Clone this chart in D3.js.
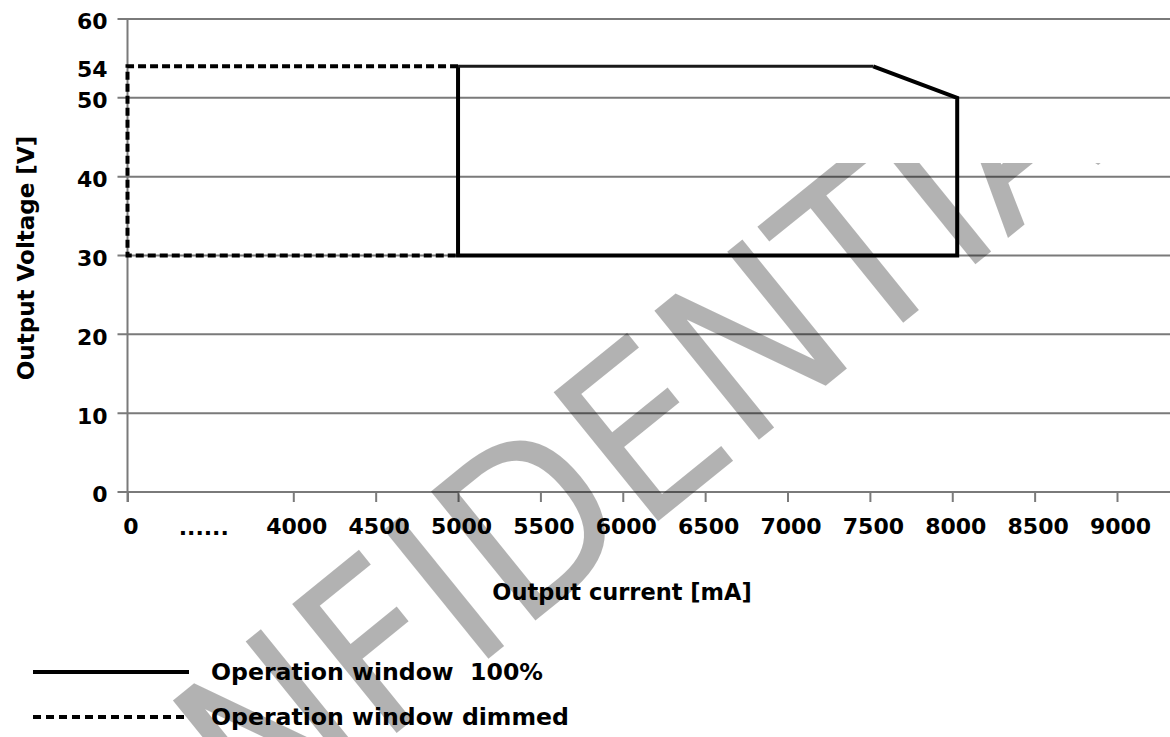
<!DOCTYPE html>
<html lang="en">
<head>
<meta charset="UTF-8">
<title>Operation window</title>
<script src="https://d3js.org/d3.v7.min.js"></script>
<style>
  body { margin: 0; background: #fff; }
  text { font-family: "DejaVu Sans", sans-serif; font-weight: bold; fill: #000; }
</style>
</head>
<body>
<div id="chart"></div>
<script>
// data
var xTicks = [0, 4000, 4500, 5000, 5500, 6000, 6500, 7000, 7500, 8000, 8500, 9000];
var xBreakLabel = "......";
var yTicks = [0, 10, 20, 30, 40, 50, 54, 60];
var yGrid = [0, 10, 20, 30, 40, 50, 60];

// operation window 100% (current mA, voltage V)
var fullCurrent = [7520, 8030, 8030, 5000, 5000, 7520];
var fullVoltage = [54, 50, 30, 30, 54, 54];

// operation window dimmed
var dimCurrent = [5000, 0, 0, 5000];
var dimVoltage = [54, 54, 30, 30];

var legendLabels = ["Operation window  100%", "Operation window dimmed"];

var W = 1170, H = 737;

var svg = d3.select("#chart")
    .append("svg")
    .attr("width", W)
    .attr("height", H);

// broken axis: 0 then a gap, then 4000..9000
var x = d3.scaleLinear()
    .domain([0, 4000, 9000])
    .range([127.5, 293.3, 1117]);

var y = d3.scaleLinear()
    .domain([0, 60])
    .range([492, 19]);

// grid
svg.append("g")
    .selectAll("line")
    .data(yGrid)
    .enter()
    .append("line")
    .attr("x1", x(0) - 10)
    .attr("x2", W)
    .attr("y1", function(d) { return y(d); })
    .attr("y2", function(d) { return y(d); })
    .attr("stroke", "#7a7a7a")
    .attr("stroke-width", 2);

// y axis line
svg.append("line")
    .attr("x1", x(0)).attr("x2", x(0))
    .attr("y1", y(60)).attr("y2", y(0) + 10)
    .attr("stroke", "#7a7a7a")
    .attr("stroke-width", 2);

// y labels
var yAxis = svg.append("g")
    .attr("transform", "translate(" + x(0) + ",0)")
    .call(d3.axisLeft(y).tickValues(yTicks).tickSize(10).tickPadding(10));
yAxis.select(".domain").remove();
yAxis.selectAll(".tick line").remove();
yAxis.selectAll("text")
    .attr("dy", "0.45em")
    .style("font-size", "22px")
    .style("font-family", "DejaVu Sans")
    .style("font-weight", "bold");

// x axis
var xAxis = svg.append("g")
    .attr("transform", "translate(0," + y(0) + ")")
    .call(d3.axisBottom(x).tickValues(xTicks).tickFormat(d3.format("d")).tickSize(10).tickPadding(16));
xAxis.select(".domain").remove();
xAxis.selectAll(".tick line").attr("stroke", "#7a7a7a").attr("stroke-width", 2);
xAxis.selectAll("text")
    .attr("dx", "3")
    .style("font-size", "22px")
    .style("font-family", "DejaVu Sans")
    .style("font-weight", "bold");

svg.append("text")
    .attr("x", x(0) + 0.46 * (x(4000) - x(0)))
    .attr("y", y(0) + 43)
    .attr("text-anchor", "middle")
    .style("font-size", "22px")
    .text(xBreakLabel);

// axis titles
svg.append("text")
    .attr("x", 622)
    .attr("y", 600)
    .attr("text-anchor", "middle")
    .style("font-size", "22.5px")
    .text("Output current [mA]");

svg.append("text")
    .attr("transform", "translate(34,258) rotate(-90)")
    .attr("text-anchor", "middle")
    .style("font-size", "23px")
    .text("Output Voltage [V]");

// lines
var line = d3.line()
    .x(function(d) { return x(d[0]); })
    .y(function(d) { return y(d[1]); });

var fullPts = d3.zip(fullCurrent, fullVoltage);
var dimPts = d3.zip(dimCurrent, dimVoltage);

svg.append("path")
    .attr("d", line(dimPts))
    .attr("fill", "none")
    .attr("stroke", "#000")
    .attr("stroke-width", 4)
    .attr("stroke-dasharray", "8,4");

svg.append("path")
    .attr("d", line(fullPts.slice(0, 5)))
    .attr("fill", "none")
    .attr("stroke", "#000")
    .attr("stroke-width", 4)
    .attr("stroke-linejoin", "miter");

svg.append("path")
    .attr("d", line(fullPts.slice(4)))
    .attr("fill", "none")
    .attr("stroke", "#1a1a1a")
    .attr("stroke-width", 3);

// legend
var legend = svg.append("g");
legendLabels.forEach(function(lbl, i) {
    var ly = 672 + i * 45;
    legend.append("line")
        .attr("x1", 33).attr("x2", 189)
        .attr("y1", ly).attr("y2", ly)
        .attr("stroke", "#000")
        .attr("stroke-width", 4)
        .attr("stroke-dasharray", i === 0 ? null : "8,5");
    legend.append("text")
        .attr("x", 211)
        .attr("y", ly + 8)
        .style("font-size", "23.6px")
        .style("white-space", "pre")
        .text(lbl);
});

// watermark
svg.append("clipPath")
    .attr("id", "wmclip")
    .append("rect")
    .attr("x", 0).attr("y", 163)
    .attr("width", W).attr("height", H - 163);

svg.append("g")
    .attr("clip-path", "url(#wmclip)")
    .append("text")
    .attr("transform", "translate(565,495) rotate(-39)")
    .attr("text-anchor", "middle")
    .attr("dominant-baseline", "central")
    .style("font-family", "'DejaVu Sans Condensed', 'DejaVu Sans'")
    .style("font-stretch", "condensed")
    .style("font-weight", "normal")
    .style("font-size", "228px")
    .style("fill", "#000")
    .style("fill-opacity", 0.3)
    .text("CONFIDENTIAL");
</script>
</body>
</html>
